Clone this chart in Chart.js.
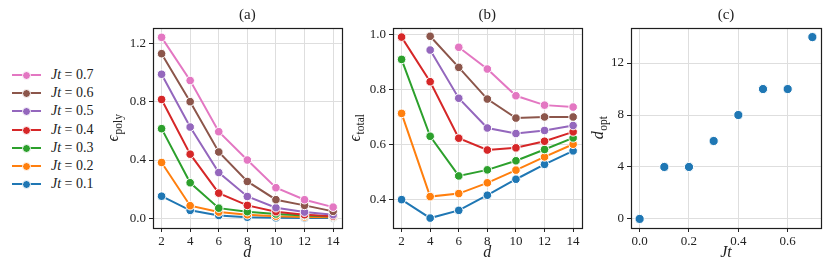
<!DOCTYPE html>
<html><head><meta charset="utf-8">
<script src="https://cdn.jsdelivr.net/npm/chart.js@4.4.1/dist/chart.umd.min.js"></script>
<style>
html,body{margin:0;padding:0;background:#fff;width:830px;height:276px;overflow:hidden;position:relative;font-family:"Liberation Serif",serif;}
.pane{position:absolute;top:0;height:276px;}
#legend{position:absolute;left:12px;top:66px;}
.row{height:18.2px;display:flex;align-items:center;font-size:14px;color:#222;}
.sym{position:relative;width:29px;height:18px;margin-right:10px;}
.sym .ln{position:absolute;left:0;right:0;top:8px;height:2px;}
.sym .dot{position:absolute;left:10px;top:5px;width:7px;height:7px;border-radius:50%;border:1px solid #fff;}
</style></head>
<body>
<div id="legend"></div>
<div class="pane" style="left:100px;width:247px"><canvas id="ca" width="247" height="276"></canvas></div>
<div class="pane" style="left:347px;width:240px"><canvas id="cb" width="240" height="276"></canvas></div>
<div class="pane" style="left:587px;width:243px"><canvas id="cc" width="243" height="276"></canvas></div>
<script>
// ---- data ----
const dValues = [2, 4, 6, 8, 10, 12, 14];
const jtLabels = ["0.1", "0.2", "0.3", "0.4", "0.5", "0.6", "0.7"];
const colors = ["#1f77b4", "#ff7f0e", "#2ca02c", "#d62728", "#9467bd", "#8c564b", "#e377c2"];

const epsPoly01 = [0.152, 0.055, 0.020, 0.008, 0.004, 0.003, 0.002];
const epsPoly02 = [0.383, 0.087, 0.043, 0.025, 0.015, 0.010, 0.008];
const epsPoly03 = [0.615, 0.244, 0.070, 0.046, 0.030, 0.020, 0.012];
const epsPoly04 = [0.815, 0.440, 0.173, 0.089, 0.046, 0.025, 0.015];
const epsPoly05 = [0.988, 0.626, 0.314, 0.150, 0.073, 0.043, 0.025];
const epsPoly06 = [1.129, 0.800, 0.455, 0.253, 0.128, 0.089, 0.048];
const epsPoly07 = [1.241, 0.945, 0.594, 0.400, 0.210, 0.128, 0.077];

const epsTotal01 = [0.400, 0.333, 0.361, 0.416, 0.474, 0.528, 0.577];
const epsTotal02 = [0.713, 0.411, 0.422, 0.461, 0.507, 0.555, 0.601];
const epsTotal03 = [0.909, 0.630, 0.486, 0.508, 0.541, 0.582, 0.624];
const epsTotal04 = [0.990, 0.828, 0.623, 0.580, 0.588, 0.612, 0.646];
const epsTotal05 = [null, 0.943, 0.768, 0.660, 0.640, 0.651, 0.669];
const epsTotal06 = [null, 0.993, 0.880, 0.765, 0.696, 0.700, 0.700];
const epsTotal07 = [null, null, 0.953, 0.874, 0.777, 0.743, 0.736];

const jtValues = [0.0, 0.1, 0.2, 0.3, 0.4, 0.5, 0.6, 0.7];
const dOpt = [0, 4, 4, 6, 8, 10, 10, 14];

const dTicks = [2, 4, 6, 8, 10, 12, 14];
const polyTicks = [0.0, 0.4, 0.8, 1.2];
const totalTicks = [0.4, 0.6, 0.8, 1.0];
const jtTicks = [0.0, 0.2, 0.4, 0.6];
const dOptTicks = [0, 4, 8, 12];

const polySeries = [epsPoly01, epsPoly02, epsPoly03, epsPoly04, epsPoly05, epsPoly06, epsPoly07];
const totalSeries = [epsTotal01, epsTotal02, epsTotal03, epsTotal04, epsTotal05, epsTotal06, epsTotal07];

// ---- legend (HTML text) ----
const leg = document.getElementById('legend');
for (let i = jtLabels.length - 1; i >= 0; i--) {
  const r = document.createElement('div'); r.className = 'row';
  r.innerHTML = '<span class="sym"><span class="ln" style="background:' + colors[i] + '"></span><span class="dot" style="background:' + colors[i] + '"></span></span>' +
    '<span><i>Jt</i>&nbsp;=&nbsp;' + jtLabels[i] + '</span>';
  leg.appendChild(r);
}

// ---- helpers ----
const SERIF = '"Liberation Serif", serif';
const frameTitle = {
  id: 'frameTitle',
  afterDraw(chart, args, o) {
    const ctx = chart.ctx, a = chart.chartArea;
    ctx.save();
    ctx.strokeStyle = '#1e1e1e'; ctx.lineWidth = 1.2;
    ctx.strokeRect(Math.round(a.left) + 0.5, Math.round(a.top) + 0.5, Math.round(a.right - a.left), Math.round(a.bottom - a.top));
    ctx.fillStyle = '#222';
    // panel title
    ctx.font = '15px ' + SERIF; ctx.textAlign = 'center'; ctx.textBaseline = 'middle';
    ctx.fillText(o.title, (a.left + a.right) / 2, 15);
    // x title
    ctx.font = 'italic 16px ' + SERIF; ctx.textBaseline = 'alphabetic';
    ctx.fillText(o.xTitle, (a.left + a.right) / 2, a.bottom + 29);
    // y title with subscript, rotated
    ctx.translate(a.left - o.yOff, (a.top + a.bottom) / 2);
    ctx.rotate(-Math.PI / 2);
    ctx.textBaseline = 'alphabetic'; ctx.textAlign = 'left';
    ctx.font = 'italic 16px ' + SERIF;
    const w1 = ctx.measureText(o.yMain).width;
    ctx.font = '11.5px ' + SERIF;
    const w2 = ctx.measureText(o.ySub).width;
    const x0 = -(w1 + w2) / 2;
    ctx.font = 'italic 16px ' + SERIF;
    ctx.fillText(o.yMain, x0, 0);
    ctx.font = '11.5px ' + SERIF;
    ctx.fillText(o.ySub, x0 + w1 + 0.5, 3.5);
    ctx.restore();
  }
};

function axis(min, max, ticks, fmt, fix, isX) {
  return {
    type: 'linear', min: min, max: max,
    afterBuildTicks: s => { s.ticks = ticks.map(v => ({ value: v })); },
    afterFit: s => { if (isX) s.height = fix; else s.width = fix; },
    grid: { color: '#dedede', lineWidth: 1, drawTicks: true, tickLength: 4, tickColor: '#262626' },
    border: { display: false },
    ticks: { color: '#222', font: { family: SERIF, size: 13 }, padding: isX ? 2 : 3, maxRotation: 0, callback: fmt, autoSkip: false }
  };
}

function lineDatasets(series) {
  const ds = [];
  for (let i = series.length - 1; i >= 0; i--) {
    ds.push({
      label: 'Jt = ' + jtLabels[i],
      data: series[i].map((v, k) => ({ x: dValues[k], y: v })),
      borderColor: colors[i], backgroundColor: colors[i], borderWidth: 2,
      pointRadius: 4.3, pointBorderColor: '#fff', pointBorderWidth: 1,
      pointBackgroundColor: colors[i], spanGaps: false, tension: 0
    });
  }
  return ds;
}

const common = (pad, extra) => Object.assign({
  responsive: false, animation: false, devicePixelRatio: 1,
  layout: { padding: pad },
  plugins: { legend: { display: false }, tooltip: { enabled: false } }
}, extra);

new Chart(document.getElementById('ca'), {
  type: 'line',
  data: { datasets: lineDatasets(polySeries) },
  options: common({ top: 28, right: 4, left: 0, bottom: 0 }, {
    scales: {
      x: axis(1.4, 14.6, dTicks, v => String(v), 48, true),
      y: axis(-0.066, 1.305, polyTicks, v => v.toFixed(1), 53, false)
    },
    plugins: { legend: { display: false }, tooltip: { enabled: false },
      frameTitle: { title: '(a)', xTitle: 'd', yMain: 'ϵ', ySub: 'poly', yOff: 35 } }
  }),
  plugins: [frameTitle]
});

new Chart(document.getElementById('cb'), {
  type: 'line',
  data: { datasets: lineDatasets(totalSeries) },
  options: common({ top: 28, right: 5, left: 0, bottom: 0 }, {
    scales: {
      x: axis(1.4, 14.6, dTicks, v => String(v), 48, true),
      y: axis(0.297, 1.023, totalTicks, v => v.toFixed(1), 46, false)
    },
    plugins: { legend: { display: false }, tooltip: { enabled: false },
      frameTitle: { title: '(b)', xTitle: 'd', yMain: 'ϵ', ySub: 'total', yOff: 33 } }
  }),
  plugins: [frameTitle]
});

new Chart(document.getElementById('cc'), {
  type: 'scatter',
  data: { datasets: [{
    label: 'd_opt',
    data: jtValues.map((v, k) => ({ x: v, y: dOpt[k] })),
    backgroundColor: colors[0], pointBackgroundColor: colors[0],
    pointRadius: 4.6, pointBorderColor: '#fff', pointBorderWidth: 1
  }] },
  options: common({ top: 28, right: 9, left: 0, bottom: 0 }, {
    scales: {
      x: axis(-0.035, 0.735, jtTicks, v => v.toFixed(1), 48, true),
      y: axis(-0.7, 14.7, dOptTicks, v => String(v), 44, false)
    },
    plugins: { legend: { display: false }, tooltip: { enabled: false },
      frameTitle: { title: '(c)', xTitle: 'Jt', yMain: 'd', ySub: 'opt', yOff: 28 } }
  }),
  plugins: [frameTitle]
});
</script>
</body></html>
